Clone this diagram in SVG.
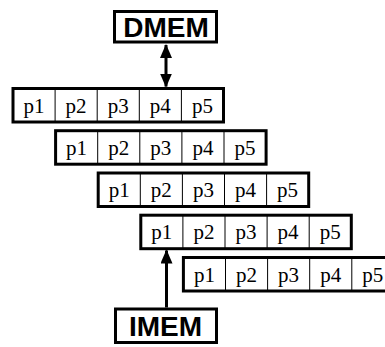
<svg xmlns="http://www.w3.org/2000/svg" width="385" height="347" viewBox="0 0 385 347">
  <style>
    .frame { fill: #fff; stroke: #000; stroke-width: 3; }
    .div { stroke: #000; stroke-width: 1; }
    .cell { font-family: "Liberation Serif", "Times New Roman", serif; font-size: 21px; text-anchor: middle; fill: #000; }
    .mem { font-family: "Liberation Sans", Arial, sans-serif; font-weight: bold; font-size: 28px; text-anchor: middle; fill: #000; }
    .wire { stroke: #000; stroke-width: 3; fill: none; }
  </style>
  <defs>
    <marker id="head" viewBox="0 0 14 12" refX="13" refY="6" markerWidth="14" markerHeight="12" markerUnits="userSpaceOnUse" orient="auto-start-reverse">
      <path d="M0,0 L14,6 L0,12 Z" fill="#000"/>
    </marker>
    <!-- one pipeline stage row: five cells of 42.1 px -->
    <g id="stage">
      <rect class="frame" x="0" y="0" width="210.5" height="33.5"/>
      <line class="div" x1="42.1" y1="0" x2="42.1" y2="33.5"/>
      <line class="div" x1="84.2" y1="0" x2="84.2" y2="33.5"/>
      <line class="div" x1="126.3" y1="0" x2="126.3" y2="33.5"/>
      <line class="div" x1="168.4" y1="0" x2="168.4" y2="33.5"/>
      <text class="cell" x="21" y="24">p1</text>
      <text class="cell" x="63.1" y="24">p2</text>
      <text class="cell" x="105.2" y="24">p3</text>
      <text class="cell" x="147.3" y="24">p4</text>
      <text class="cell" x="189.4" y="24">p5</text>
    </g>
  </defs>

  <g id="dmem">
    <rect class="frame" x="114.5" y="11.5" width="102" height="30.5"/>
    <text class="mem" x="166" y="37">DMEM</text>
  </g>

  <g id="imem">
    <rect class="frame" x="115.5" y="309" width="101" height="33.5"/>
    <text class="mem" x="165.5" y="336">IMEM</text>
  </g>

  <g id="stage1"><use href="#stage" x="13" y="88.5"/></g>
  <g id="stage2"><use href="#stage" x="55.6" y="130.7"/></g>
  <g id="stage3"><use href="#stage" x="98.2" y="173"/></g>
  <g id="stage4"><use href="#stage" x="140.8" y="215.2"/></g>
  <g id="stage5"><use href="#stage" x="183.4" y="257.5"/></g>

  <g id="connectors">
    <line class="wire" x1="166" y1="45" x2="166" y2="86.5" marker-start="url(#head)" marker-end="url(#head)"/>
    <line class="wire" x1="166.5" y1="307.5" x2="166.5" y2="250.5" marker-end="url(#head)"/>
  </g>
</svg>
